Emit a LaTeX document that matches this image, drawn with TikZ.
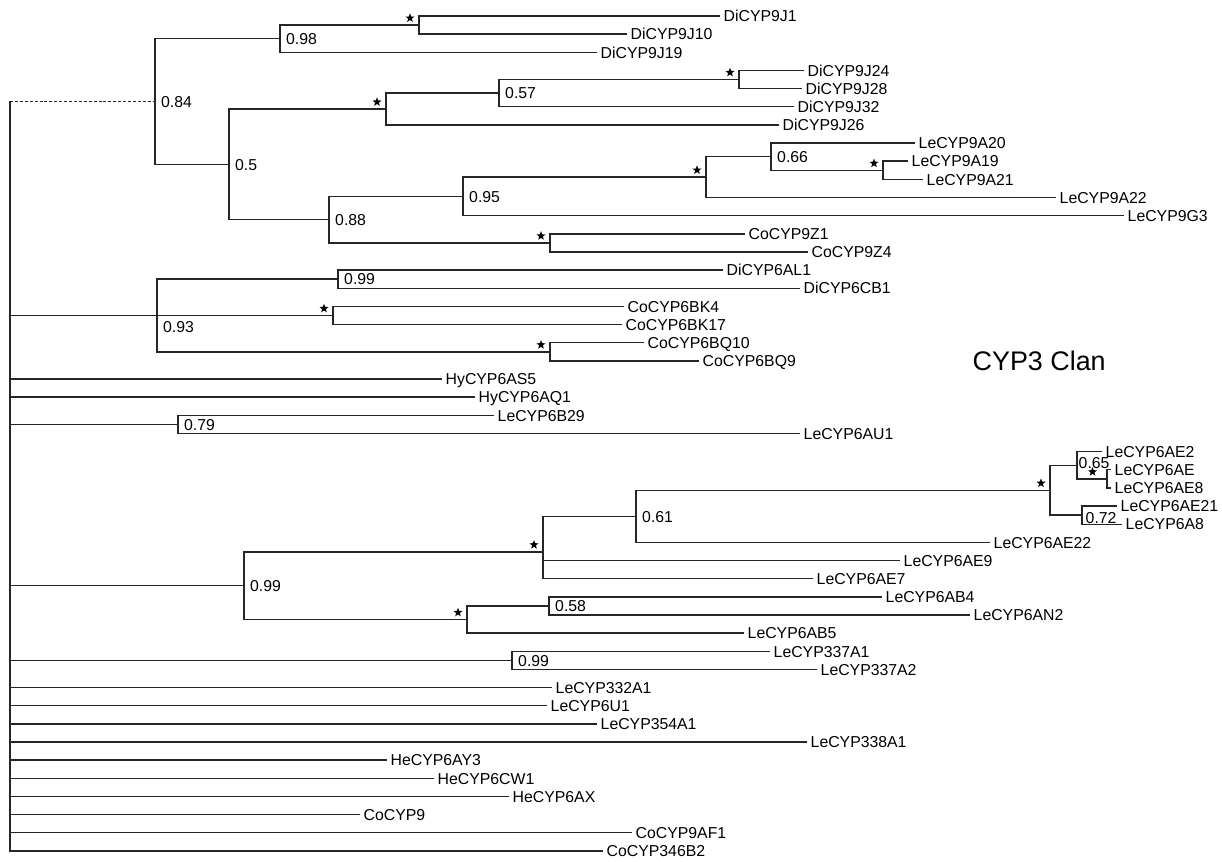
\documentclass[tikz,border=0pt]{standalone}
\usepackage{fontspec}
\setmainfont{Liberation Sans}
\usetikzlibrary{shapes.geometric}

\begin{document}
\begin{tikzpicture}[x=0.02cm, y=-0.02cm, line width=0.8pt, draw=black!85,
	leaf/.style={anchor=west, inner xsep=0.06cm, inner ysep=0pt, text height=0.23cm, text depth=0pt, font=\fontsize{9}{11}\selectfont},
	bs/.style={anchor=west, inner xsep=0.11cm, inner ysep=0pt, text height=0.23cm, text depth=0pt, font=\fontsize{9}{11}\selectfont},
	bstar/.style={star, star points=5, star point ratio=2.4, fill=black, draw=none, inner sep=0pt, minimum size=0.19cm, xshift=-0.18cm, yshift=0.14cm}]
	\useasboundingbox (0,0) rectangle (1222,861);

	\coordinate (r) at (10,101.5);
	\coordinate (n84) at (155,101.5);
	\coordinate (n98) at (280,38.7);
	\coordinate (s1) at (419,25.1);
	\coordinate (n50) at (229,164.3);
	\coordinate (s2) at (386,109);
	\coordinate (n57) at (499,93.1);
	\coordinate (s3) at (739,79.5);
	\coordinate (n88) at (329,219.6);
	\coordinate (n95) at (463,196.4);
	\coordinate (s4) at (706,177.1);
	\coordinate (n66) at (771,156.7);
	\coordinate (s5) at (883,170.3);
	\coordinate (s6) at (550,242.9);
	\coordinate (n93) at (157,315.5);
	\coordinate (n99a) at (338,279.2);
	\coordinate (s7) at (333,315.5);
	\coordinate (s8) at (550,351.8);
	\coordinate (n79) at (178,424.4);
	\coordinate (n99b) at (244,585.7);
	\coordinate (s9) at (543,551.8);
	\coordinate (n61) at (636,516.3);
	\coordinate (s11) at (1050,490.2);
	\coordinate (n65) at (1077,465.2);
	\coordinate (s12) at (1107,478.8);
	\coordinate (n72) at (1082,515.1);
	\coordinate (s10) at (467,619.5);
	\coordinate (n58) at (549,605.9);
	\coordinate (n99c) at (512,660.3);

	\node[leaf] (DiCYP9J1) at (720,16) {DiCYP9J1};
	\node[leaf] (DiCYP9J10) at (627,34.15) {DiCYP9J10};
	\node[leaf] (DiCYP9J19) at (597,52.3) {DiCYP9J19};
	\node[leaf] (DiCYP9J24) at (804,70.45) {DiCYP9J24};
	\node[leaf] (DiCYP9J28) at (802,88.6) {DiCYP9J28};
	\node[leaf] (DiCYP9J32) at (794,106.75) {DiCYP9J32};
	\node[leaf] (DiCYP9J26) at (779,124.9) {DiCYP9J26};
	\node[leaf] (LeCYP9A20) at (915,143.05) {LeCYP9A20};
	\node[leaf] (LeCYP9A19) at (908,161.2) {LeCYP9A19};
	\node[leaf] (LeCYP9A21) at (923,179.35) {LeCYP9A21};
	\node[leaf] (LeCYP9A22) at (1056,197.5) {LeCYP9A22};
	\node[leaf] (LeCYP9G3) at (1124,215.65) {LeCYP9G3};
	\node[leaf] (CoCYP9Z1) at (745,233.8) {CoCYP9Z1};
	\node[leaf] (CoCYP9Z4) at (808,251.95) {CoCYP9Z4};
	\node[leaf] (DiCYP6AL1) at (723,270.1) {DiCYP6AL1};
	\node[leaf] (DiCYP6CB1) at (800,288.25) {DiCYP6CB1};
	\node[leaf] (CoCYP6BK4) at (624,306.4) {CoCYP6BK4};
	\node[leaf] (CoCYP6BK17) at (622,324.55) {CoCYP6BK17};
	\node[leaf] (CoCYP6BQ10) at (644,342.7) {CoCYP6BQ10};
	\node[leaf] (CoCYP6BQ9) at (699,360.85) {CoCYP6BQ9};
	\node[leaf] (HyCYP6AS5) at (442,379) {HyCYP6AS5};
	\node[leaf] (HyCYP6AQ1) at (475,397.15) {HyCYP6AQ1};
	\node[leaf] (LeCYP6B29) at (494,415.3) {LeCYP6B29};
	\node[leaf] (LeCYP6AU1) at (800,433.45) {LeCYP6AU1};
	\node[leaf] (LeCYP6AE2) at (1102,451.6) {LeCYP6AE2};
	\node[leaf] (LeCYP6AE) at (1111,469.75) {LeCYP6AE};
	\node[leaf] (LeCYP6AE8) at (1111,487.9) {LeCYP6AE8};
	\node[leaf] (LeCYP6AE21) at (1117,506.05) {LeCYP6AE21};
	\node[leaf] (LeCYP6A8) at (1122,524.2) {LeCYP6A8};
	\node[leaf] (LeCYP6AE22) at (990,542.35) {LeCYP6AE22};
	\node[leaf] (LeCYP6AE9) at (900,560.5) {LeCYP6AE9};
	\node[leaf] (LeCYP6AE7) at (813,578.65) {LeCYP6AE7};
	\node[leaf] (LeCYP6AB4) at (882,596.8) {LeCYP6AB4};
	\node[leaf] (LeCYP6AN2) at (970,614.95) {LeCYP6AN2};
	\node[leaf] (LeCYP6AB5) at (744,633.1) {LeCYP6AB5};
	\node[leaf] (LeCYP337A1) at (770,651.25) {LeCYP337A1};
	\node[leaf] (LeCYP337A2) at (817,669.4) {LeCYP337A2};
	\node[leaf] (LeCYP332A1) at (552,687.55) {LeCYP332A1};
	\node[leaf] (LeCYP6U1) at (547,705.7) {LeCYP6U1};
	\node[leaf] (LeCYP354A1) at (597,723.85) {LeCYP354A1};
	\node[leaf] (LeCYP338A1) at (807,742) {LeCYP338A1};
	\node[leaf] (HeCYP6AY3) at (387,760.15) {HeCYP6AY3};
	\node[leaf] (HeCYP6CW1) at (434,778.3) {HeCYP6CW1};
	\node[leaf] (HeCYP6AX) at (509,796.45) {HeCYP6AX};
	\node[leaf] (CoCYP9) at (360,814.6) {CoCYP9};
	\node[leaf] (CoCYP9AF1) at (632,832.75) {CoCYP9AF1};
	\node[leaf] (CoCYP346B2) at (603,850.9) {CoCYP346B2};

	\draw[dashed, dash pattern=on 1.7pt off 1.1pt] (r) -- (n84);
	\draw (r) |- (n93) (r) |- (HyCYP6AS5) (r) |- (HyCYP6AQ1) (r) |- (n79)
		(r) |- (n99b) (r) |- (n99c) (r) |- (LeCYP332A1) (r) |- (LeCYP6U1)
		(r) |- (LeCYP354A1) (r) |- (LeCYP338A1) (r) |- (HeCYP6AY3) (r) |- (HeCYP6CW1)
		(r) |- (HeCYP6AX) (r) |- (CoCYP9) (r) |- (CoCYP9AF1) (r) |- (CoCYP346B2);

	\draw (n84) |- (n98) (n84) |- (n50);
	\draw (n98) |- (s1) (n98) |- (DiCYP9J19);
	\draw (s1) |- (DiCYP9J1) (s1) |- (DiCYP9J10);
	\draw (n50) |- (s2) (n50) |- (n88);
	\draw (s2) |- (n57) (s2) |- (DiCYP9J26);
	\draw (n57) |- (s3) (n57) |- (DiCYP9J32);
	\draw (s3) |- (DiCYP9J24) (s3) |- (DiCYP9J28);
	\draw (n88) |- (n95) (n88) |- (s6);
	\draw (n95) |- (s4) (n95) |- (LeCYP9G3);
	\draw (s4) |- (n66) (s4) |- (LeCYP9A22);
	\draw (n66) |- (LeCYP9A20) (n66) |- (s5);
	\draw (s5) |- (LeCYP9A19) (s5) |- (LeCYP9A21);
	\draw (s6) |- (CoCYP9Z1) (s6) |- (CoCYP9Z4);

	\draw (n93) |- (n99a) (n93) |- (s7) (n93) |- (s8);
	\draw (n99a) |- (DiCYP6AL1) (n99a) |- (DiCYP6CB1);
	\draw (s7) |- (CoCYP6BK4) (s7) |- (CoCYP6BK17);
	\draw (s8) |- (CoCYP6BQ10) (s8) |- (CoCYP6BQ9);
	\draw (n79) |- (LeCYP6B29) (n79) |- (LeCYP6AU1);

	\draw (n99b) |- (s9) (n99b) |- (s10);
	\draw (s9) |- (n61) (s9) |- (LeCYP6AE9) (s9) |- (LeCYP6AE7);
	\draw (n61) |- (s11) (n61) |- (LeCYP6AE22);
	\draw (s11) |- (n65) (s11) |- (n72);
	\draw (n65) |- (LeCYP6AE2) (n65) |- (s12);
	\draw (s12) |- (LeCYP6AE) (s12) |- (LeCYP6AE8);
	\draw (n72) |- (LeCYP6AE21) (n72) |- (LeCYP6A8);
	\draw (s10) |- (n58) (s10) |- (LeCYP6AB5);
	\draw (n58) |- (LeCYP6AB4) (n58) |- (LeCYP6AN2);
	\draw (n99c) |- (LeCYP337A1) (n99c) |- (LeCYP337A2);

	\node[bs] (l84) at (n84) {0.84};
	\node[bs] (l98) at (n98) {0.98};
	\node[bs] (l50) at (n50) {0.5};
	\node[bs] (l57) at (n57) {0.57};
	\node[bs] (l88) at (n88) {0.88};
	\node[bs] (l95) at (n95) {0.95};
	\node[bs] (l66) at (n66) {0.66};
	\node[bs, yshift=-0.23cm] (l93) at (n93) {0.93};
	\node[bs] (l99a) at (n99a) {0.99};
	\node[bs] (l79) at (n79) {0.79};
	\node[bs] (l99b) at (n99b) {0.99};
	\node[bs] (l61) at (n61) {0.61};
	\node[bs, xshift=-0.09cm, yshift=0.04cm] (l65) at (n65) {0.65};
	\node[bs, xshift=-0.05cm, yshift=-0.06cm] (l72) at (n72) {0.72};
	\node[bs] (l58) at (n58) {0.58};
	\node[bs] (l99c) at (n99c) {0.99};

	\node[bstar] (t1) at (s1) {};
	\node[bstar] (t2) at (s2) {};
	\node[bstar] (t3) at (s3) {};
	\node[bstar] (t4) at (s4) {};
	\node[bstar] (t5) at (s5) {};
	\node[bstar] (t6) at (s6) {};
	\node[bstar] (t7) at (s7) {};
	\node[bstar] (t8) at (s8) {};
	\node[bstar] (t9) at (s9) {};
	\node[bstar] (t10) at (s10) {};
	\node[bstar] (t11) at (s11) {};
	\node[bstar, xshift=-0.11cm] (t12) at (s12) {};

	\node[anchor=base west, inner sep=0pt, font=\fontsize{15.3}{18}\selectfont] (clan) at (972,370) {CYP3 Clan};
\end{tikzpicture}
\end{document}
